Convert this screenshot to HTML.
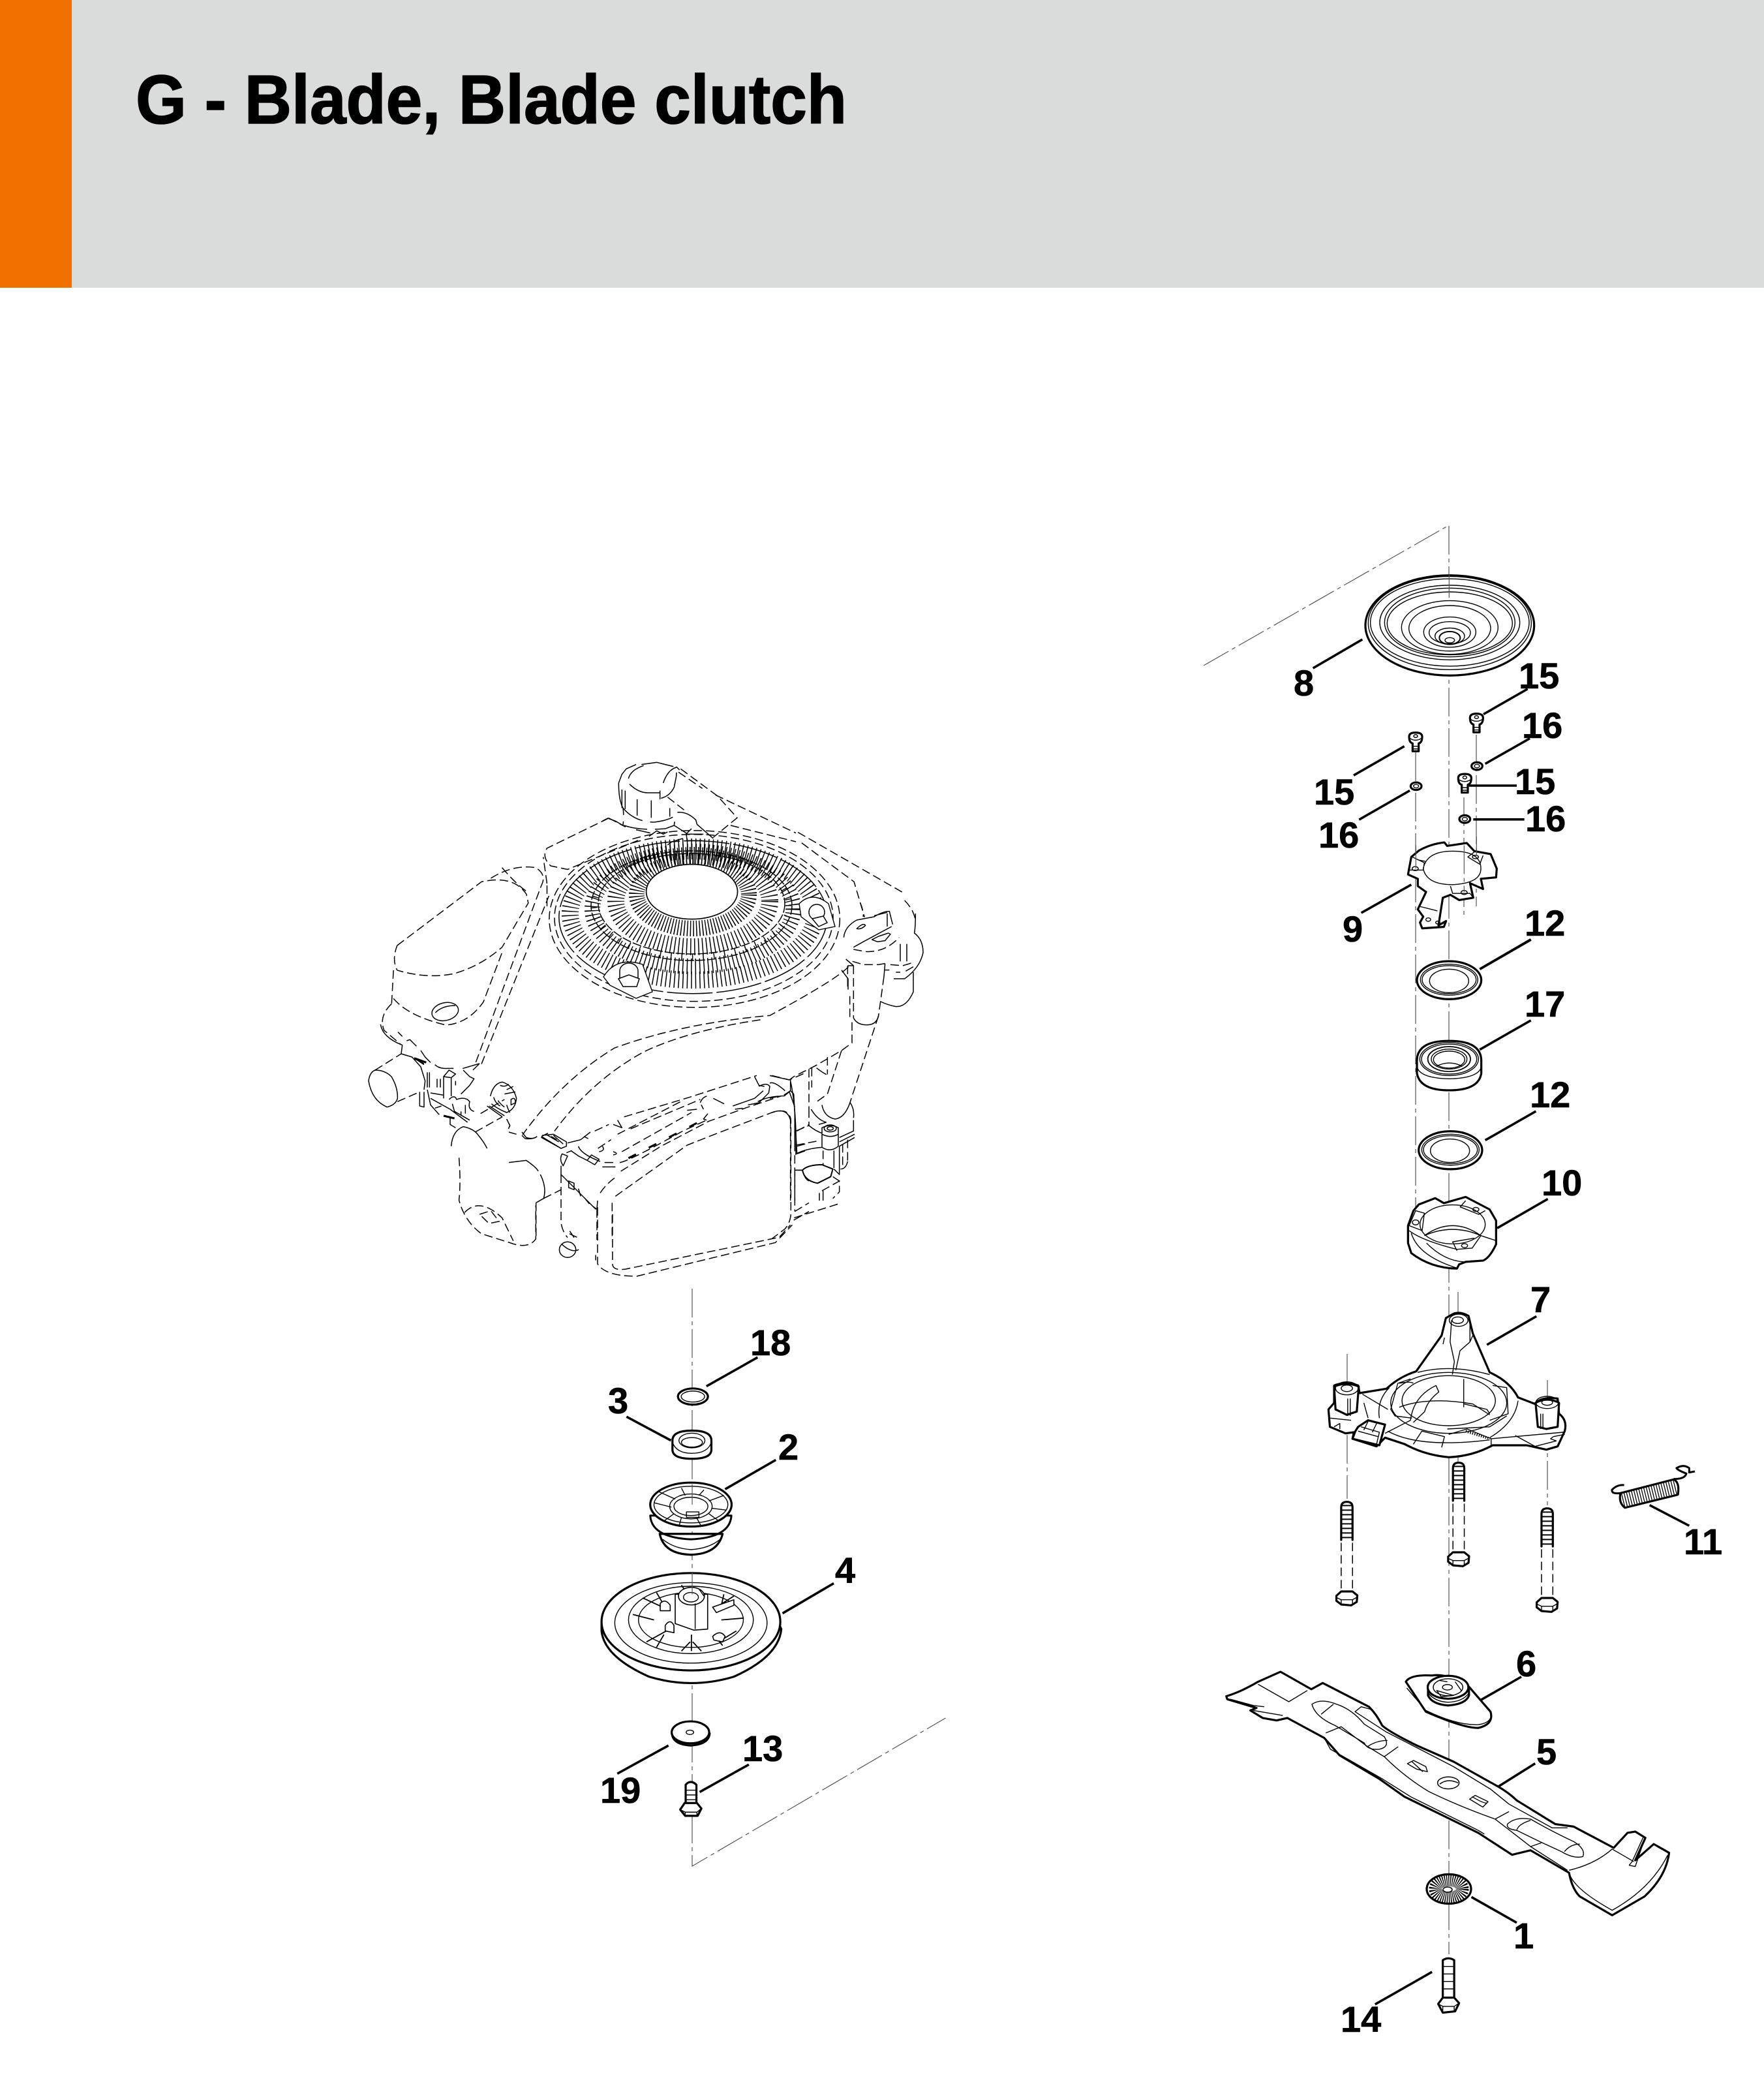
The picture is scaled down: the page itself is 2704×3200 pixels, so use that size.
<!DOCTYPE html>
<html><head><meta charset="utf-8"><style>
html,body{margin:0;padding:0;background:#fff}
svg{display:block}
svg *{vector-effect:non-scaling-stroke}
text{font-family:"Liberation Sans",sans-serif;font-weight:700;font-size:56px;fill:#000;stroke:#000;stroke-width:.6}
.p{fill:#fff;stroke:#000;stroke-width:3.2;stroke-linejoin:round;stroke-linecap:round}
.t{fill:none;stroke:#000;stroke-width:1.4;stroke-linejoin:round}
.k{fill:none;stroke:#000;stroke-width:3;stroke-linejoin:round}
.l{fill:none;stroke:#000;stroke-width:3.6}
.a{fill:none;stroke:#555;stroke-width:1.2;stroke-dasharray:44 6 6 6}
.d{fill:none;stroke:#000;stroke-width:1.5;stroke-dasharray:13 6}
.e{fill:none;stroke:#000;stroke-width:1.5;stroke-linejoin:round}
.h{fill:none;stroke:#000}
</style></head><body>
<svg xmlns="http://www.w3.org/2000/svg" width="2704" height="3200" viewBox="0 0 2704 3200">
<defs>
<g id="bolt">
<path class="p" d="M-20,175V25Q-20,0 0,0Q20,0 20,25V175"/>
<path class="h" style="stroke-width:17;stroke-dasharray:2 5" d="M0,14V172"/>
<path class="d" d="M-20,188V415M20,188V415"/>
<path class="p" d="M-37,432L-20,412H20L37,430L35,460L15,476L-20,472L-37,455Z"/>
<path class="t" d="M-37,440L-20,450H20L37,438M-20,450V472M20,450V468"/>
</g>
<g id="screw">
<path class="p" d="M-30,-8Q-30,-22 0,-22Q30,-22 30,-8Q30,12 14,15V42H-14V15Q-30,12 -30,-8Z"/>
<path class="t" d="M-14,25H14M-14,34H14M-30,-4Q0,12 30,-4"/>
<ellipse class="t" cx="0" cy="-10" rx="9" ry="5"/>
</g>
<g id="washer">
<ellipse class="p" cx="0" cy="0" rx="25" ry="13"/>
<ellipse class="t" cx="0" cy="0" rx="12" ry="6"/>
</g>
</defs>
<rect width="2704" height="441" fill="#dadcdb"/>
<rect width="110" height="441" fill="#f07000"/>
<text x="208" y="189" style="font-size:106px;stroke-width:1.6" textLength="1090" lengthAdjust="spacingAndGlyphs">G - Blade, Blade clutch</text>

<!-- axes -->
<path class="a" d="M1061,1975V2860L1449.5,2633"/>
<path class="a" d="M1845,1020L2221,805V2995"/>
<path class="a" d="M2170,1153V1851M2244,1222V1403M2263,1126V1389"/>
<path class="a" d="M2065,2075V2297M2372,2115V2307M2235,1980V2240"/>

<!-- ENGINE main -->
<g transform="translate(540,1140) scale(.574,.5421)">
<g class="d">
<path d="M1190,250L1470,420M1200,280L1340,390L1368,490"/>
<path d="M685,210L520,295Q505,320 530,345L575,355L770,270M685,210L730,235"/>
<path d="M120,570L345,390Q430,370 465,425L470,450L400,575Q340,630 270,650Q200,665 120,640Q105,610 120,570Z"/>
<path d="M110,640L105,735M110,720Q150,770 250,795Q310,790 350,730L400,590"/>
<path d="M105,735Q70,770 85,810L130,850M330,900L505,400M345,905L525,430M370,380Q430,340 490,350Q520,370 505,400M400,350Q440,400 470,420"/>
<path d="M1325,630Q1295,665 1115,768Q880,790 700,860Q560,950 455,1105"/>
<path d="M1090,780Q900,810 780,870Q640,950 540,1095"/>
<path d="M520,395L510,320M520,400L520,460"/>
<path d="M285,1170Q290,1240 285,1290Q300,1350 345,1385L420,1410Q470,1430 490,1400L490,1305"/>
<path d="M300,1325Q340,1280 400,1340L430,1405M340,1330L370,1320L392,1350L365,1356Z"/>
<path d="M655,1310V1470Q675,1505 760,1505L1130,1410L1175,1360"/>
<path d="M695,1330V1470Q695,1490 730,1485L1140,1395L1170,1360"/>
<path d="M1180,1340L1300,1300"/>
</g>
<ellipse class="d" cx="912" cy="492" rx="372" ry="236"/>
<ellipse class="d" cx="914" cy="495" rx="388" ry="250"/>
<ellipse class="e" cx="910" cy="490" rx="358" ry="216" stroke-dasharray="70 6"/>
<ellipse class="e" cx="248" cy="757" rx="36" ry="25" transform="rotate(-15 248 757)"/>
<path class="e" d="M222,760Q240,740 275,740"/>
<circle class="e" cx="575" cy="1430" r="22"/>
<path class="e" d="M580,1385L600,1395M650,1445V1460M560,1415Q585,1440 605,1430"/>
</g>

<!-- flywheel hatch in real px -->
<g fill="none" stroke="#000">
<ellipse cx="1062" cy="1371" rx="86" ry="52" stroke-width="24" stroke-dasharray="1.5 3.2"/>
<ellipse cx="1062" cy="1381" rx="118" ry="70" stroke-width="26" stroke-dasharray="1.5 4.6"/>
<ellipse cx="1062" cy="1393" rx="154" ry="88" stroke-width="24" stroke-dasharray="1.5 5"/>
<ellipse cx="1062" cy="1400" rx="188" ry="102" stroke-width="26" stroke-dasharray="1.5 5"/>
<ellipse cx="1060" cy="1385" rx="143" ry="77" stroke-width="1.5" stroke-dasharray="14 3"/>
<ellipse cx="1060" cy="1388" rx="154" ry="84" stroke-width="1.5" stroke-dasharray="14 3"/>
<ellipse cx="1060" cy="1387" rx="149" ry="80" stroke-width="9" stroke-dasharray="1.5 15"/>
</g>
<ellipse cx="1060.6" cy="1366.6" rx="70" ry="42" fill="#fff" stroke="#000" stroke-width="1.7"/>
<!-- flywheel bolts -->
<path d="M925,1497Q945,1465 985,1478L1000,1520L975,1530L935,1510Z" fill="#fff" stroke="#000" stroke-width="1.4"/>
<path d="M950,1488A14,12 0 0 1 978,1488V1500H950Z" fill="#fff" stroke="#000" stroke-width="1.5"/>
<path d="M948,1500L964,1494L980,1500L976,1512L955,1512Z" fill="#fff" stroke="#000" stroke-width="1.5"/>
<path d="M1225,1385Q1245,1365 1270,1385L1280,1420L1255,1425L1228,1405Z" fill="#fff" stroke="#000" stroke-width="1.4"/>
<circle cx="1252" cy="1398" r="12" fill="#fff" stroke="#000" stroke-width="1.5"/>
<path d="M1245,1408L1262,1404L1268,1414L1255,1420Z" fill="#fff" stroke="#000" stroke-width="1.5"/>

<!-- carburettor region -->
<g transform="translate(560,1560) scale(.33333)">
<path class="e" d="M45,240Q20,250 15,290Q30,380 100,410Q140,400 148,370Q150,320 120,270Q90,240 45,240Z"/>
<path class="d" d="M45,240L165,165M148,385L250,340M505,525L630,455M530,440L640,375"/>
<path class="e" d="M70,30Q80,90 170,125L165,165L215,180L255,225L275,290L270,330"/>
<path class="e" stroke-dasharray="30 14" d="M150,65L170,85M190,105L205,100L235,130M255,150L275,180L300,205M320,215Q340,235 380,232H450L525,210"/>
<path class="e" d="M360,270L385,240L415,258L395,275ZM360,270V370M395,275V360M295,250V320M285,250V320M250,340V405L270,410V340M285,330L300,400L340,445M300,370L390,420L470,480M320,415L350,405M385,375Q410,350 420,375Q460,360 480,385Q470,420 500,430M400,395L410,430L480,470M450,240L480,270L500,280L480,310L440,350M390,460V490L415,505M330,280V320M345,280V320M415,290V310M300,345L360,355M240,195L270,215M230,190L270,210M440,430V450M460,400V440M525,210L495,240"/>
<path class="k" style="stroke-width:3" d="M360,450L410,462M225,185L280,205"/>
<path class="e" d="M575,360Q590,300 630,295Q680,310 695,370Q690,420 650,435Q610,420 580,395M590,365Q600,395 620,405M610,380Q625,400 640,410M650,400Q660,430 665,435M620,310Q640,320 660,305M650,330L680,315M640,350L690,340M670,375Q690,360 690,390L670,400ZM560,405L630,455M570,405L640,450M650,465L665,495L658,510"/>
<path class="e" d="M395,590Q400,520 450,500Q500,510 520,540Q545,570 560,600"/>
<path class="e" d="M720,540L735,555Q770,560 790,545M810,545L900,600M830,535L890,570M855,545L880,560M810,545L840,530"/>
</g>

<!-- filler cap region -->
<g transform="translate(920,1150) scale(.33333)">
<path class="e" stroke-dasharray="50 10" d="M85,150L100,110L120,85L165,65M190,65L260,55L340,75M130,130Q140,90 200,70M135,155Q175,195 220,195H275M85,150Q85,230 105,265Q110,300 105,345M280,220Q320,210 340,170L350,120L352,78M290,150Q310,90 350,78"/>
<path class="e" d="M100,180V265M115,185V270M170,225V300M235,230V310M320,265V305M275,185V225M350,75L365,90M340,345L395,380L400,415M355,285Q400,280 440,320L445,340M445,340L520,405M420,360L395,385M400,385H475M395,415H470M10,325L35,312L70,325L105,345M225,395L260,370L290,385L310,375M310,435L330,420L380,405"/>
<path class="e" stroke-dasharray="36 12" d="M105,265Q160,330 250,330Q330,320 355,290M110,345Q180,370 300,360L340,345L345,310M165,365L230,380"/>
<path class="d" d="M370,85L540,210L630,310L520,400M360,100L470,175M310,215L400,285M530,205L900,380M600,345L900,420"/>
</g>

<!-- muffler top region -->
<g transform="translate(780,1640) scale(.33333)">
<path class="d" d="M395,280L460,250M530,215L830,125L1140,25M1210,25L1290,45L1370,10M410,360L470,320M500,295L790,145M560,270L880,135M515,465L700,350L920,235L1100,170L1250,120M490,580L820,345L960,290L1210,195Q1290,170 1297,230V660Q1295,700 1270,730L1210,775M475,610V780M405,640V780M125,610V780M160,590L240,550M240,480V700Q245,740 270,770M1315,470V650M1315,650L1380,610M1310,690L1380,650M1325,280L1380,250M1325,350L1380,335M1325,385L1380,365M420,565Q450,520 495,490M1315,200V360M520,375L840,195M510,425Q550,420 800,280L910,230"/>
<path class="k" style="stroke-width:3;stroke-dasharray:13 22" d="M550,405L900,225"/>
<path class="e" d="M60,285L80,310Q110,320 130,305M0,285L35,295M155,300L205,295L265,330V350L240,360L150,310ZM205,300L250,340M270,335L330,320L375,285M345,305L365,315M480,250L520,265L500,230M415,375Q445,370 430,350M480,390Q510,385 480,375M865,180L820,185M320,350Q330,385 420,420M440,425H480M430,445H490M380,390L415,410L395,435L360,415ZM285,370L320,395L360,415M245,385L270,395L250,440Q230,410 245,385ZM290,370L265,380M240,440V480L400,640M275,510L300,520V550L275,540ZM320,545L330,580M350,590L370,615M385,625L405,640L408,600M0,425L80,415Q130,450 135,465M145,480Q175,540 160,590L125,610M280,740L300,770M1030,165L1130,130L1170,95M1040,180L1075,175M1100,160L1150,150L1195,105L1200,75Q1185,55 1150,75M1130,30L1150,70L1175,75M880,150Q890,125 910,120M885,160L895,180M940,130L990,155M1200,60Q1220,50 1270,95M1240,120Q1180,125 1145,145M1265,115L1295,95L1310,110L1325,385M1295,45V95M1320,460H1350M1350,460Q1360,500 1380,510M915,200L895,225L910,230"/>
</g>

<!-- right tube region -->
<g transform="translate(1180,1380) scale(.33333)">
<path class="d" d="M525,350L500,530M385,300V540M368,440V540M378,560V655L330,690L210,760L110,810M500,530L375,910M330,690L265,890L210,930M180,775V960M193,770V860M265,720V800M180,960V1035M95,1010V1380M115,1000V1380M245,1150V1220M335,1120V1235M358,1100V1200M120,1125L225,1105M120,1060L180,1035M240,1335L320,1290V1340L290,1370M415,10Q430,40 430,75M620,0Q660,40 670,90M225,1030L260,1020M358,300V410M385,225L440,235Q530,240 595,170M380,280L430,295H500L530,290M555,295L610,300Q650,290 665,280M530,320H550M580,330H600"/>
<path class="e" d="M340,170Q345,120 400,90L480,75Q520,50 550,50L565,110M480,70L540,55M540,60V120M500,530Q490,575 440,572Q400,570 385,540M400,130Q430,100 440,115Q420,135 400,130ZM470,180L500,165L545,150L555,155L530,185L495,190ZM385,215L430,190L560,120M350,270L385,300L358,300M330,320L360,360V410M670,60Q670,120 665,150Q705,180 705,240Q690,310 620,360H570M660,330V420Q630,490 580,488Q540,480 510,465M625,325L660,305M600,200V280M630,200V280M530,290L525,350M90,825L0,805M90,825L110,810M370,930Q390,960 385,1000M375,910Q350,1000 300,1005Q250,995 240,940M215,770Q240,790 260,800M190,960Q220,1010 260,1020M180,1035Q210,1060 240,1070M120,1060V1170M95,830Q115,920 120,1060M65,900L90,880L115,950M10,975Q80,950 95,1010M0,910Q60,895 65,900M115,1240H150M295,1150V1230M320,1130V1260L295,1235M358,1200Q350,1235 325,1235M290,1270L320,1290M228,1345V1380M245,1335V1380M120,1165Q170,1140 240,1135M320,1090L385,1060V1010M320,1110L390,1075M320,1130L390,1090"/>
<path class="e" fill="#fff" style="fill:#fff" d="M240,1045Q280,1025 315,1045V1130Q280,1160 240,1135Z"/>
<ellipse class="e" cx="278" cy="1048" rx="28" ry="16"/>
<ellipse class="e" cx="278" cy="1048" rx="14" ry="8"/>
<path class="e" d="M240,1075Q280,1095 315,1075"/>
<path class="e" style="stroke-width:2" d="M150,1240Q175,1215 240,1215L290,1235L280,1270L220,1300Q160,1290 150,1240Z"/>
</g>

<!-- LEFT STACK -->
<g transform="translate(880,2000) scale(.3827,.5612)">
<ellipse class="p" cx="476" cy="250" rx="60" ry="22"/><ellipse class="t" cx="476" cy="250" rx="47" ry="15"/>
<path class="p" d="M394,370Q394,343 472,343Q550,343 550,370V395Q550,420 472,420Q394,420 394,395Z"/>
<path class="t" d="M394,375Q410,405 472,405Q535,405 550,375"/>
<ellipse class="t" cx="472" cy="370" rx="52" ry="20"/><ellipse class="t" cx="472" cy="375" rx="42" ry="13"/>
<path class="p" d="M343,625Q360,680 468,682Q575,680 595,625Z"/>
<path class="t" d="M355,640Q400,665 468,668Q540,665 585,640"/>
<path class="k" d="M305,575Q310,635 468,640Q625,635 630,575Z" fill="#fff"/>
<ellipse class="p" cx="468" cy="545" rx="163" ry="60"/>
<ellipse class="t" cx="468" cy="545" rx="148" ry="50"/>
<ellipse class="t" cx="468" cy="550" rx="85" ry="34"/>
<ellipse class="t" cx="468" cy="550" rx="68" ry="25"/>
<path class="t" d="M320,540L390,552M340,510L405,530M430,500L445,520M520,505L500,520M600,520L540,535M550,555L610,560M540,570L580,590M490,580L510,605M430,580L420,605M400,570L360,590M450,565H500V580H450Z"/>
<path class="a" d="M473,490V545"/>
<path class="p" d="M110,890Q120,960 300,1015Q470,1050 640,1015Q820,960 830,885L820,870L110,870Z"/>
<ellipse class="p" cx="468" cy="865" rx="358" ry="133"/>
<ellipse class="t" cx="468" cy="868" rx="305" ry="110"/>
<ellipse class="t" cx="468" cy="860" rx="250" ry="92"/>
<ellipse class="t" cx="468" cy="860" rx="210" ry="75"/>
<path class="k" style="stroke-width:1.8" d="M235,845L320,860M275,800L370,830M330,785L360,820M430,765L455,790M640,795L570,825M600,790L590,820M680,855L590,860M590,915L650,890M595,930L560,900M470,945L470,900M430,945L465,920M510,945L475,920M290,920L370,890M330,935L360,900"/>
<path class="p" style="stroke-width:1.6" d="M345,815Q365,800 385,820V835L345,835ZM555,825L640,805V820L570,840ZM365,875Q385,855 400,875V895L365,890ZM555,905Q585,885 605,905L595,920L560,915Z"/>
<path class="p" style="stroke-width:1.6" d="M405,790H535V885L480,888L405,870Z"/>
<ellipse class="p" style="stroke-width:1.6" cx="470" cy="795" rx="52" ry="24"/>
<ellipse class="t" cx="468" cy="798" rx="30" ry="13"/>
<path class="t" d="M485,815V885M500,775L520,795"/>
<path class="a" d="M473,730V790"/>
<path class="p" d="M392,1170Q395,1200 466,1203Q540,1200 543,1170Z"/>
<ellipse class="p" cx="466" cy="1167" rx="75" ry="30"/>
<ellipse class="t" cx="464" cy="1167" rx="15" ry="6"/>
<path class="p" d="M447,1310Q467,1295 490,1310V1370H447Z"/>
<path class="t" d="M447,1325H490M447,1338H490M447,1351H490"/>
<path class="p" d="M425,1378L443,1360H492L510,1375L495,1395L445,1395Z"/>
<path class="t" d="M425,1378L445,1385H492L510,1375M445,1385V1395M492,1385V1395"/>
<path class="l" d="M530,222L735,143M210,305L388,370M605,503L808,423M835,842L1040,760M503,1330L700,1255M173,1280L378,1203"/>
</g>

<!-- 8, 15, 16, 9 -->
<g transform="translate(1960,800) scale(.33333,.4464)">
<ellipse class="p" cx="787" cy="355" rx="388" ry="172"/>
<ellipse class="t" cx="787" cy="347" rx="375" ry="160"/>
<ellipse class="t" cx="787" cy="345" rx="365" ry="150"/>
<ellipse class="t" cx="787" cy="345" rx="322" ry="128"/>
<ellipse class="t" cx="787" cy="345" rx="300" ry="118"/>
<ellipse class="t" cx="787" cy="348" rx="288" ry="108"/>
<ellipse class="t" cx="787" cy="362" rx="222" ry="92"/>
<ellipse class="t" cx="787" cy="365" rx="188" ry="78"/>
<ellipse class="t" cx="787" cy="378" rx="120" ry="52"/>
<ellipse class="t" cx="787" cy="380" rx="95" ry="38"/>
<ellipse class="t" cx="787" cy="392" rx="68" ry="28"/>
<ellipse class="k" style="stroke-width:2" cx="787" cy="398" rx="48" ry="22"/>
<ellipse class="t" cx="787" cy="406" rx="22" ry="9"/>
<path class="a" d="M784,180V260"/>
<path class="p" d="M595,1210L610,1150L645,1128Q700,1105 762,1100L775,1112L865,1102L900,1130L975,1140L1003,1190L1000,1220L930,1225L940,1260L880,1240L895,1290L830,1298L790,1280L755,1290L735,1385L770,1370L760,1390L660,1395L650,1375L665,1355L640,1330L678,1270L640,1250L640,1225Z"/>
<path class="t" d="M665,1190Q680,1130 800,1130Q930,1130 930,1190Q930,1240 800,1245Q680,1245 665,1190ZM595,1195H665L670,1170L615,1150M640,1160L675,1165M905,1130L870,1150L925,1175L940,1145M790,1250L800,1275H880L890,1285M650,1320L730,1335"/>
<ellipse class="t" cx="628" cy="1190" rx="14" ry="7"/>
<ellipse class="t" cx="905" cy="1150" rx="14" ry="6"/>
<ellipse class="t" cx="853" cy="1272" rx="14" ry="7"/>
<ellipse class="t" cx="688" cy="1365" rx="11" ry="6"/>
<ellipse class="t" cx="732" cy="1375" rx="10" ry="5"/>
<path class="a" d="M631,1110V1190M853,1110V1270M910,1080V1145"/>
<use href="#screw" x="630" y="745"/>
<use href="#screw" x="910" y="680"/>
<use href="#screw" x="856" y="887"/>
<use href="#washer" x="632" y="907"/>
<use href="#washer" x="912" y="838"/>
<use href="#washer" x="856" y="1020"/>
<path class="l" d="M158,502L385,403M942,660L1145,573M950,830L1155,743M875,905H1095M895,1021H1130M345,870L578,770M370,1022L603,922M380,1342L610,1245"/>
<path class="l" d="M925,1535L1160,1433"/>
</g>

<!-- seals, bearing, collar -->
<g transform="translate(2000,1400) scale(.33333,.3827)">
<ellipse class="p" cx="664" cy="267" rx="148" ry="76"/>
<ellipse class="t" cx="664" cy="265" rx="132" ry="62"/>
<ellipse class="t" cx="664" cy="265" rx="124" ry="56"/>
<ellipse class="t" cx="664" cy="270" rx="90" ry="47"/>
<path class="p" d="M516,590Q516,510 664,510Q812,510 812,590V640Q800,708 664,708Q530,708 516,640Z"/>
<path class="t" d="M518,620Q540,660 664,662Q790,660 810,620"/>
<ellipse class="t" cx="664" cy="583" rx="135" ry="66"/>
<ellipse class="t" cx="664" cy="583" rx="127" ry="60"/>
<ellipse class="k" style="stroke-width:1.8" cx="664" cy="583" rx="98" ry="50"/>
<ellipse class="t" cx="664" cy="583" rx="82" ry="40"/>
<ellipse class="t" cx="664" cy="585" rx="72" ry="34"/>
<path class="t" d="M605,612Q664,585 725,612"/>
<ellipse class="p" cx="670" cy="948" rx="146" ry="76"/>
<ellipse class="t" cx="670" cy="946" rx="132" ry="62"/>
<ellipse class="t" cx="670" cy="946" rx="124" ry="56"/>
<ellipse class="t" cx="668" cy="950" rx="90" ry="47"/>
<path class="p" d="M475,1250L500,1190L525,1165L600,1140L640,1160L740,1135L850,1185L880,1230V1325Q850,1380 820,1390L740,1395L710,1405L700,1422Q580,1420 490,1360L475,1320Z"/>
<ellipse class="t" cx="680" cy="1245" rx="150" ry="78"/>
<path class="t" d="M550,1290Q680,1210 810,1290Q680,1240 550,1290M480,1270Q540,1310 700,1345L770,1340L810,1290L880,1310M510,1190L480,1250L540,1270L550,1200ZM740,1150L715,1175L800,1205L830,1190M700,1350L680,1315L780,1300M490,1280Q520,1370 700,1420M560,1320Q640,1390 730,1395"/>
<ellipse class="t" cx="510" cy="1237" rx="15" ry="10"/>
<ellipse class="t" cx="787" cy="1185" rx="14" ry="8"/>
<ellipse class="t" cx="735" cy="1330" rx="14" ry="8"/>
<path class="l" d="M805,223L1040,105M805,545L1040,428M830,908L1063,792M885,1260L1118,1143"/>
</g>

<!-- spider 7, bolts, spring -->
<g transform="translate(1980,1960) scale(.4337,.33333)">
<path class="p" d="M565,165Q590,145 625,170L640,250L700,430Q770,470 800,545L860,575Q880,540 940,550L945,620Q975,650 965,700L940,770L900,785L830,765L710,765Q640,815 555,820Q470,810 400,760L330,730L300,770L215,735L220,705L190,710L135,680L130,600L150,570V490Q190,470 235,490L240,525L335,505Q380,450 440,425L530,260L545,180Z"/>
<path class="t" d="M310,640Q300,560 345,500M800,560Q790,660 700,730M340,700Q450,780 700,740"/>
<ellipse class="t" cx="555" cy="570" rx="205" ry="140"/>
<ellipse class="t" cx="555" cy="560" rx="165" ry="115"/>
<path class="t" d="M380,590Q480,540 640,575L700,625M608,460V590M610,575L690,600L700,620M420,650Q430,540 510,490L520,520Q480,560 470,610L430,660"/>
<path class="t" d="M565,190L560,290L575,380L568,440M630,190V290L595,330L580,420M540,270L535,300M640,260L630,290M445,430Q560,390 700,440M420,460L375,480L350,600L365,630L425,640M710,490L760,500L765,620L700,650M380,480Q420,470 430,480M550,690L700,680L760,630M555,715L620,690L705,735L960,705M430,760L460,700L540,725L530,775M705,735V765M790,720L860,770L935,745L915,735L925,725L965,715M330,710L420,650M250,530L340,600M255,570L270,640"/>
<path class="h" style="stroke-width:4;stroke-dasharray:1.5 2" d="M615,700L695,732"/>
<path class="p" d="M235,680L270,650L330,670L310,765L215,735L225,700Z"/>
<path class="t" d="M245,680L310,705L300,760M235,700L305,725M270,655L255,695M300,665L285,705"/>
<path class="t" d="M135,640L210,650M150,680L170,665V690M155,580L205,605L235,570"/>
<path class="p" d="M150,495Q195,470 237,495L230,610L195,625L155,600Z"/>
<ellipse class="t" cx="195" cy="503" rx="40" ry="30"/><ellipse class="t" cx="195" cy="503" rx="20" ry="15"/>
<path class="t" d="M198,550V630M207,550V630"/>
<path class="p" d="M862,570Q903,540 945,570L940,680L900,690L870,680Z"/>
<ellipse class="t" cx="903" cy="568" rx="40" ry="28"/><ellipse class="t" cx="903" cy="568" rx="19" ry="13"/>
<path class="t" d="M880,620V690M888,620V690"/>
<ellipse class="t" cx="590" cy="190" rx="33" ry="28"/><ellipse class="t" cx="587" cy="190" rx="20" ry="15"/>
<use href="#bolt" x="195" y="1025"/>
<use href="#bolt" x="590" y="845"/>
<use href="#bolt" x="903" y="1055"/>
<path class="p" d="M1162,985L1350,922Q1372,935 1365,992L1178,1052Q1155,1030 1162,985Z"/>
<path class="h" style="stroke-width:21;stroke-dasharray:1.3 2.6" d="M1170,1017L1362,955"/>
<path class="k" d="M1160,985Q1130,990 1132,970Q1150,945 1175,948M1350,920Q1390,920 1395,895Q1365,880 1360,870Q1385,850 1405,870V890L1425,885"/>
<path class="l" d="M690,303L865,172M1265,1040L1405,1135"/>
</g>

<!-- blade, plate, washer, bolt -->
<g transform="translate(1860,2520) scale(.472,.3827)">
<path class="p" d="M42,208Q90,190 145,150L218,110L318,180L355,155L505,250Q530,280 548,325Q570,350 660,405L780,470L925,570Q960,595 985,625L1110,720L1170,730L1300,815L1345,755L1370,750L1403,775L1370,865L1430,800L1480,835Q1470,930 1400,1010L1295,1085L1190,1010Q1165,980 1155,915L1030,825L970,843L860,755L620,610L540,540L410,445L360,375L240,295L205,305L160,295L120,265L140,255L45,220Z"/>
<path class="t" d="M145,160L245,230L305,185M55,220L130,245L165,250M130,265L225,285M365,355L415,330L495,405L555,450L600,410M360,375L380,420L550,540L640,610L860,745L880,760M510,260L480,250L460,270L560,350L780,490L900,580L960,640L1100,735L1150,735M555,450Q620,530 700,590Q800,650 915,700L960,670M915,700L1030,810L1150,905M1030,810L1065,795M1155,905Q1240,880 1295,820M1295,820L1365,870M1155,915Q1170,980 1295,1065Q1420,980 1475,845"/>
<path class="t" d="M320,240Q350,215 400,240Q450,260 490,320L555,370Q575,410 540,420Q500,425 490,395L395,325Q330,290 320,240ZM390,240L350,280M500,410Q530,385 565,385"/>
<path class="t" d="M955,720Q980,690 1030,700Q1100,750 1170,790Q1210,820 1200,850Q1170,860 1130,830L1060,790L985,745Q950,740 955,720ZM1030,705Q990,720 985,745M1140,830Q1160,800 1190,800"/>
<path class="t" d="M630,478L650,465L690,490L695,510L660,500ZM645,470L680,510M832,620L850,605L892,630L875,652ZM840,610Q880,640 890,635"/>
<path class="t" d="M1350,885L1370,890L1400,780M1350,885L1360,870L1395,775"/>
<ellipse class="k" style="stroke-width:1.5" cx="763" cy="555" rx="35" ry="24"/>
<path class="t" d="M735,560Q760,535 795,555"/>
<path class="p" d="M625,150Q640,120 710,125Q760,115 830,170L900,270Q912,320 860,335Q810,335 690,270Z"/>
<path class="t" d="M628,175L690,265Q790,325 860,322Q900,315 902,285"/>
<path class="p" d="M697,172V205Q710,240 762,245Q820,240 830,205V172Z"/>
<ellipse class="p" cx="762" cy="172" rx="66" ry="46"/>
<ellipse class="t" cx="762" cy="172" rx="48" ry="34"/>
<ellipse class="t" cx="760" cy="172" rx="16" ry="11"/>
<path class="t" d="M697,195Q720,230 762,232Q810,230 830,195M725,185L780,205L740,210ZM735,145L760,150M785,150L805,185"/>
<path class="p" d="M745,1265Q763,1250 782,1265V1420H745Z"/>
<path class="t" d="M745,1290H782M745,1320H782M745,1350H782M745,1380H782"/>
<path class="p" d="M730,1440L745,1415H782L798,1437L785,1470L745,1475Z"/>
<path class="t" d="M730,1440L745,1450H782L798,1437M745,1450V1475M782,1450V1470"/>
<path class="l" d="M870,222L1000,130M925,570L1045,477M838,1012L985,1115M710,1312L525,1442"/>
</g>
<ellipse class="p" cx="2221" cy="2895" rx="34" ry="22.5"/>
<ellipse cx="2221" cy="2895" rx="21" ry="13.5" fill="none" stroke="#000" stroke-width="19" stroke-dasharray="1.4 1.5"/>
<ellipse cx="2219" cy="2896" rx="7" ry="4" fill="#fff" stroke="#000" stroke-width="1.5"/>

<!-- labels -->
<text x="1150" y="2077">18</text><text x="932" y="2166">3</text><text x="1193" y="2237">2</text><text x="1280" y="2426">4</text>
<text x="1138" y="2699">13</text><text x="920" y="2763">19</text>
<text x="1983" y="1066">8</text><text x="2328" y="1055">15</text><text x="2333" y="1131">16</text><text x="2322" y="1217">15</text>
<text x="2338" y="1274">16</text><text x="2014" y="1233">15</text><text x="2021" y="1299">16</text><text x="2058" y="1443">9</text>
<text x="2337" y="1434">12</text><text x="2337" y="1558">17</text><text x="2345" y="1697">12</text><text x="2363" y="1832">10</text>
<text x="2346" y="2011">7</text><text x="2581" y="2382">11</text><text x="2324" y="2569">6</text><text x="2355" y="2704">5</text>
<text x="2320" y="2986">1</text><text x="2055" y="3114">14</text>
</svg>
</body></html>
